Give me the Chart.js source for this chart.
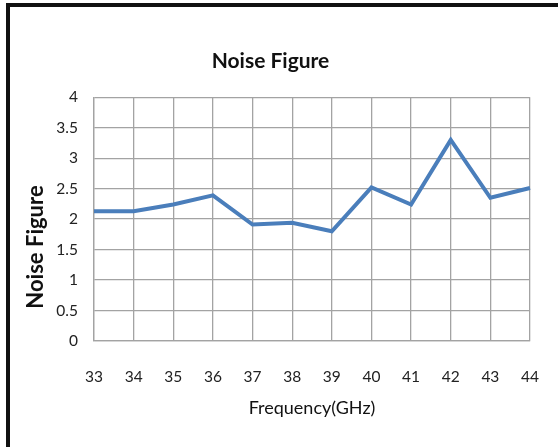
<!DOCTYPE html>
<html>
<head>
<meta charset="utf-8">
<script src="https://cdn.jsdelivr.net/npm/chart.js@4.4.0/dist/chart.umd.min.js"></script>
<style>
  html, body { margin: 0; padding: 0; background: #fff; width: 558px; height: 447px; overflow: hidden; }
  #chart { position: absolute; left: 0; top: 0; }
  .frame-left { position: absolute; left: 6px; top: 3px; width: 4px; height: 444px; background: #111; }
  .frame-top { position: absolute; left: 6px; top: 3px; width: 552px; height: 4px; background: #111; }
</style>
</head>
<body>
<canvas id="chart" width="566" height="447"></canvas>
<div class="frame-left"></div>
<div class="frame-top"></div>
<script>
// Data
const frequencies = ['33', '34', '35', '36', '37', '38', '39', '40', '41', '42', '43', '44'];
const noiseFigure = [2.13, 2.13, 2.24, 2.39, 1.91, 1.94, 1.80, 2.52, 2.24, 3.30, 2.35, 2.51];
const yMin = 0;
const yMax = 4;
const yStep = 0.5;

const gridColor = '#a3a3a3';

// Y axis title sits lower than the plot centre in the original, so draw it here
const yTitlePlugin = {
    id: 'yTitle',
    afterDraw(chart) {
        const ctx = chart.ctx;
        ctx.save();
        ctx.translate(36, 247);
        ctx.rotate(-Math.PI / 2);
        ctx.font = 'bold 22px Lato';
        ctx.fillStyle = '#111';
        ctx.textAlign = 'center';
        ctx.textBaseline = 'middle';
        ctx.fillText('Noise Figure', 0, 0);
        ctx.restore();
    }
};

const ctx = document.getElementById('chart').getContext('2d');
new Chart(ctx, {
    type: 'line',
    data: {
        labels: frequencies,
        datasets: [{
            label: 'Noise Figure',
            data: noiseFigure,
            borderColor: '#4a7ebb',
            borderWidth: 4,
            pointRadius: 0,
            tension: 0,
            fill: false
        }]
    },
    options: {
        responsive: false,
        animation: false,
        // canvas is wider than the window; right padding keeps the title centred like the original
        layout: { padding: { left: 0, right: 25, top: 0, bottom: 0 } },
        plugins: {
            legend: { display: false },
            tooltip: { enabled: false },
            title: {
                display: true,
                text: 'Noise Figure',
                color: '#111',
                font: { family: 'Lato', size: 21, weight: 'bold' },
                padding: { top: 49, bottom: 23 }
            }
        },
        scales: {
            x: {
                offset: false,
                grid: { color: gridColor, lineWidth: 1.3, drawTicks: false },
                border: { color: gridColor, width: 1.3 },
                ticks: {
                    color: '#222',
                    font: { family: 'Lato', size: 15.5 },
                    padding: 27,
                    maxRotation: 0,
                    autoSkip: false
                },
                title: {
                    display: true,
                    text: 'Frequency(GHz)',
                    color: '#111',
                    font: { family: 'Lato', size: 18 },
                    padding: { top: 0, bottom: 28 }
                },
                afterFit(scale) { scale.height = 106; }
            },
            y: {
                min: yMin,
                max: yMax,
                grid: { color: gridColor, lineWidth: 1.3, drawTicks: false },
                border: { color: gridColor, width: 1.3 },
                ticks: {
                    stepSize: yStep,
                    color: '#222',
                    font: { family: 'Lato', size: 15.5 },
                    padding: 16,
                    callback: value => String(value)
                },
                afterFit(scale) { scale.width = 94; }
            }
        }
    },
    plugins: [yTitlePlugin]
});
</script>
</body>
</html>
